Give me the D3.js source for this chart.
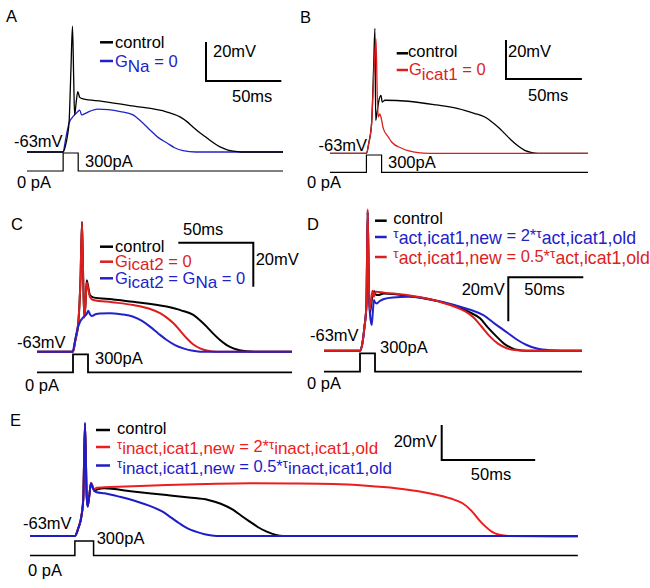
<!DOCTYPE html>
<html><head><meta charset="utf-8">
<script src="https://cdn.jsdelivr.net/npm/d3@7"></script>
<style>body{margin:0;background:#fff}svg{display:block}text{font-family:"Liberation Sans",Arial,sans-serif}</style>
</head><body><svg id="c" width="650" height="588"></svg>
<script>
// ---- data: [time ms, membrane potential mV] ----
const A_control = [[0,-63],[24,-63],[25.5,-60],[27,-54],[28,-47],[29.2,-20],[30.2,1.5],[31,-25],[31.6,-44],[32.6,-38],[33.7,-32],[35,-35],[37.2,-35.8],[50,-37],[70,-39.4],[93,-42.5],[101.6,-45],[106,-47.3],[110.2,-50.2],[115,-53.3],[119.5,-55.8],[124,-58.4],[128.2,-60.4],[133,-61.9],[137,-62.6],[142,-63],[170,-63]];
const A_GNa0 = [[0,-63],[24,-63],[25.5,-57],[28,-48],[31,-44.5],[33.5,-42.5],[35,-41.5],[36.3,-44],[38,-43.5],[42,-42],[47,-41],[54,-41.3],[62,-42.3],[70.4,-44],[76,-47.5],[81.7,-51.7],[87,-55.5],[93,-58.4],[98,-60.8],[103.6,-62.3],[112,-63],[170,-63]];
const B_control = [[0,-63],[24,-63],[25.5,-58],[27.4,-47.8],[28.7,-20],[29.6,1.1],[30.1,-46.1],[31,-42],[32.5,-35],[33.6,-33.3],[34.4,-36.7],[36.2,-35.8],[51.5,-36.3],[70,-38.2],[84.4,-40.1],[95,-42.5],[102,-44.4],[106.5,-46.8],[110.7,-49.5],[115,-52.8],[119.5,-56.3],[124,-59.3],[128.3,-61.5],[133,-62.6],[137,-63],[170,-63]];
const B_Gicat1_0 = [[0,-63],[24,-63],[25.5,-58],[27.4,-47.8],[29,-20],[30.3,-4.2],[31.2,-35],[31.8,-44.4],[32.8,-42.8],[33.6,-44.5],[35.1,-50.2],[38.4,-54.6],[40.6,-57.2],[47.2,-60.4],[52,-61.8],[58,-62.7],[65,-63],[170,-63]];
const C_control = [[0,-63],[24,-63],[25.5,-58],[27.5,-50],[29,-30],[30,-4],[30.8,-30],[31.5,-47],[32.3,-42],[33.1,-30.5],[34,-33],[35.3,-37.2],[37.5,-38.3],[50,-39.2],[64.2,-40.3],[86.4,-42.5],[96,-44.2],[104.2,-46.3],[108.8,-48.8],[113.1,-51.6],[117.5,-54.8],[122,-57.7],[126.5,-60],[130.9,-61.5],[135,-62.3],[139.8,-62.8],[145,-63],[170,-63]];
const C_Gicat2_0 = [[0,-63],[24,-63],[25.5,-58],[27.5,-50],[29,-30],[30,-4],[30.8,-30],[31.5,-47.5],[32.3,-42],[33.1,-31.5],[34,-34],[35.3,-38],[37.5,-39.5],[50,-40.5],[64.2,-41.8],[75,-43.5],[82,-45.5],[86.5,-47.5],[91,-50.1],[95.5,-53.5],[99.8,-56.9],[104,-59.6],[108.7,-61.5],[114,-62.6],[120,-63],[170,-63]];
const C_Gicat2_GNa_0 = [[0,-63],[23.8,-63],[24.8,-60],[26.5,-54],[28.7,-49.4],[31,-47.3],[33.1,-45.9],[34.2,-44.4],[35.3,-46],[36.5,-46.8],[39,-46],[42,-45.6],[48.7,-45.5],[56,-46],[64.2,-47.1],[70,-49],[75.3,-51.6],[81,-54.8],[86.5,-57.7],[92,-60],[97.5,-61.5],[103,-62.5],[108.7,-63],[170,-63]];
const D_control = [[0,-63],[24,-63],[25.5,-60],[27,-52],[28.3,-42],[29.1,0],[29.8,-30],[30.5,-46],[31.5,-42],[32.5,-36.9],[33.5,-36],[34.5,-37.5],[36,-37.7],[40,-37],[56,-38],[77,-40.7],[90.7,-43.5],[97,-45.5],[104,-48.3],[109.5,-52.6],[115.1,-56.6],[120,-59.8],[124.5,-61.6],[128.4,-62.6],[135,-63],[172,-63]];
const D_tauAct2x = [[0,-63],[24,-63],[25.5,-60],[27,-52],[28.3,-42],[29.1,0],[29.8,-30],[30.6,-46],[31.8,-51.3],[32.6,-45],[33.3,-40],[34,-41],[35.2,-41.5],[37,-40.5],[40,-39.5],[46,-38.8],[56,-38.5],[77,-40.5],[90.7,-43],[98,-44.5],[106.2,-46.8],[114,-50.8],[121.8,-54.6],[128.5,-57.9],[135.1,-60.4],[142,-62],[150.7,-62.8],[158,-63],[172,-63]];
const D_tauAct05x = [[0,-63],[24,-63],[25.5,-60],[27,-52],[28.3,-42],[29.1,1.3],[29.8,-30],[30.5,-44.5],[31.5,-40],[32.3,-35.7],[33.2,-38.5],[34.2,-36.2],[35.1,-36.2],[40,-36.6],[56,-37.8],[77,-40.7],[90.7,-44],[95,-45.5],[99.5,-47.8],[105,-52],[110.7,-56.6],[116,-59.8],[121.8,-61.9],[127,-62.7],[134,-63],[172,-63]];
const E_control = [[0,-63],[24,-63],[25.8,-58.6],[27.6,-51],[28.5,-41.5],[29.4,1.4],[30.3,-39.6],[30.8,-46],[31.7,-40],[32.6,-33],[33.5,-35],[34.4,-37],[35.7,-36.5],[39.7,-35.7],[55,-37.6],[73.1,-39.6],[85,-41],[95.3,-42.4],[102,-44.6],[108.7,-48.1],[113,-51.4],[117.6,-54.8],[122,-58],[126.6,-60.5],[131,-62.2],[135.5,-63],[293,-63]];
const E_tauInact2x = [[0,-63],[24,-63],[25.8,-58.6],[27.6,-51],[28.5,-41.5],[29.4,1.4],[30.3,-39.6],[30.8,-46],[31.7,-40],[32.6,-32.5],[33.5,-34.5],[34.4,-36.5],[35.7,-35.4],[39.7,-35.2],[55,-34.6],[73.1,-33.9],[95,-33.3],[117.6,-32.9],[140,-33],[162.2,-33.3],[180,-34.3],[195.6,-35.7],[207,-37.3],[217.9,-39.6],[225,-41.6],[231.3,-44.3],[236,-48.5],[240.2,-53.9],[243.5,-57.5],[246.9,-60.5],[251,-62.3],[255.8,-63],[293,-63.3]];
const E_tauInact05x = [[0,-63],[24,-63],[25.8,-58.6],[27.6,-51],[28.5,-41.5],[29.4,1.4],[30.3,-39.6],[30.8,-46.3],[31.7,-40],[32.6,-32.9],[33.5,-35.2],[34.4,-37.3],[35.7,-38],[39.7,-38.6],[48,-40.6],[57.5,-43.4],[64,-45.8],[70.9,-49.1],[75.5,-52.5],[79.8,-55.7],[84,-58.5],[88.7,-60.5],[94,-62.2],[99.8,-63],[293,-63]];
// injected current: [time ms, pA]
const stim_170 = [[0,0],[24,0],[24,300],[34,300],[34,0],[170,0]];
const stim_172 = [[0,0],[24,0],[24,300],[34,300],[34,0],[172,0]];
const stim_293 = [[0,0],[24,0],[24,300],[34,300],[34,0],[293,0]];
// scale bar values
const barTime = 50, barVolt = 20;
const restLabel = "-63mV", stimLabel = "300pA", zeroLabel = "0 pA";

const BLUE = "#2222c8", RED = "#dc1e1e", BLACK = "#000";
const svg = d3.select("#c");

function rich(g, x, y, parts, color){
  const t = g.append("text").attr("x", x).attr("y", y).attr("fill", color);
  parts.forEach(p => t.append("tspan").attr("y", y + (p[2]||0)).style("font-size", (p[1]||16.5)+"px").text(p[0]));
}
function txt(g, x, y, s, color){ rich(g, x, y, [[s,16.5,0]], color||BLACK); }

function panel(c){
  const g = svg.append("g");
  const x = d3.scaleLinear().domain([0, c.tMax]).range([c.x0, c.x1]);
  const y = d3.scaleLinear().domain([-63, 0]).range([c.yRest, c.yRest - 63*c.pxmV]);
  const yI = d3.scaleLinear().domain([0, 300]).range([c.iBase, c.iTop]);
  g.append("path").attr("d", d3.line().x(d=>x(d[0])).y(d=>yI(d[1]))(c.stim))
    .attr("fill","none").attr("stroke","#000").attr("stroke-width", c.iw);
  const line = d3.line().x(d=>x(d[0])).y(d=>y(d[1])).curve(d3.curveMonotoneX);
  c.traces.forEach(tr => g.append("path").attr("d", line(tr.data)).attr("fill","none")
    .attr("stroke", tr.color).attr("stroke-width", c.lw).attr("stroke-linejoin","round"));
  // scale bar
  const lt = x(barTime) - x(0), lv = y(-63) - y(-63 + barVolt);
  const [bx, by] = c.bar; let d;
  if (c.barType === "L") d = `M${bx},${by-lv}V${by}H${bx+lt}`;
  else if (c.barType === "R") d = `M${bx-lt},${by}H${bx}V${by+lv}`;
  else d = `M${bx},${by+lv}V${by}H${bx+lt}`;
  g.append("path").attr("d", d).attr("fill","none").attr("stroke","#000").attr("stroke-width",2);
  // legend
  c.legend.forEach(L => {
    g.append("line").attr("x1", L.dx[0]).attr("x2", L.dx[1]).attr("y1", L.dy).attr("y2", L.dy)
      .attr("stroke", L.color).attr("stroke-width", 2.5);
    rich(g, L.tx, L.ty, L.parts, L.color);
  });
  c.labels.forEach(l => txt(g, l[0], l[1], l[2]));
}

panel({x0:27, x1:283, tMax:170, yRest:152, pxmV:1.95, iBase:171, iTop:153, lw:1.3, iw:1.2,
  stim: stim_170, traces:[{data:A_GNa0,color:BLUE},{data:A_control,color:BLACK}],
  barType:"L", bar:[206,81],
  legend:[{dx:[100,113],dy:42.3,tx:115,ty:48,color:BLACK,parts:[["control"]]},
          {dx:[100,113],dy:61,tx:115,ty:66.5,color:BLUE,parts:[["G"],["Na",17,5],[" = 0"]]}],
  labels:[[6,22,"A"],[14,146.5,restLabel],[85,166.5,stimLabel],[17,188,zeroLabel],[213,57,"20mV"],[232,102,"50ms"]]});

panel({x0:330, x1:588, tMax:170, yRest:153.3, pxmV:1.95, iBase:172.3, iTop:155, lw:1.3, iw:1.2,
  stim: stim_170, traces:[{data:B_control,color:BLACK},{data:B_Gicat1_0,color:RED}],
  barType:"L", bar:[506,79],
  legend:[{dx:[396.7,408],dy:53.3,tx:408,ty:57,color:BLACK,parts:[["control"]]},
          {dx:[396.7,408],dy:70,tx:409,ty:75,color:RED,parts:[["G"],["icat1",17,5],[" = 0"]]}],
  labels:[[300,23,"B"],[318.5,150.5,restLabel],[388,168,stimLabel],[307,188,zeroLabel],[508,57,"20mV"],[528,101,"50ms"]]});

panel({x0:37, x1:292, tMax:170, yRest:351.7, pxmV:2.2, iBase:372.3, iTop:354.3, lw:2, iw:1.8,
  stim: stim_170, traces:[{data:C_control,color:BLACK},{data:C_Gicat2_0,color:RED},{data:C_Gicat2_GNa_0,color:BLUE}],
  barType:"R", bar:[253.3,242.7],
  legend:[{dx:[100,113],dy:246.7,tx:115,ty:251.5,color:BLACK,parts:[["control"]]},
          {dx:[100,113],dy:261.7,tx:115,ty:266.5,color:RED,parts:[["G"],["icat2",17,3.5],[" = 0"]]},
          {dx:[100,113],dy:278.3,tx:115,ty:284,color:BLUE,parts:[["G"],["icat2",17,3.5],[" = G"],["Na",17,3.5],[" = 0"]]}],
  labels:[[11,229.5,"C"],[17,348,restLabel],[95,363.5,stimLabel],[25,391,zeroLabel],[255.7,265,"20mV"],[183,235,"50ms"]]});

panel({x0:324, x1:582, tMax:172, yRest:350.7, pxmV:2.2, iBase:371.7, iTop:353.3, lw:2, iw:1.8,
  stim: stim_172, traces:[{data:D_control,color:BLACK},{data:D_tauAct2x,color:BLUE},{data:D_tauAct05x,color:RED}],
  barType:"G", bar:[508.3,277.3],
  legend:[{dx:[375,386.7],dy:220.7,tx:393.3,ty:224,color:BLACK,parts:[["control"]]},
          {dx:[375,386.7],dy:237,tx:393.3,ty:241,color:BLUE,parts:[["τ",13.5,-3.5],["act,icat1,new",17.7,2.5],[" = 2*"],["τ",13.5,-3.5],["act,icat1,old",17.7,2.5]]},
          {dx:[375,386.7],dy:257,tx:393.3,ty:261.5,color:RED,parts:[["τ",13.5,-3.5],["act,icat1,new",17.7,2.5],[" = 0.5*"],["τ",13.5,-3.5],["act,icat1,old",17.7,2.5]]}],
  labels:[[307,229.5,"D"],[310,340.5,restLabel],[380,353,stimLabel],[307,389,zeroLabel],[461.7,295,"20mV"],[524.3,294.5,"50ms"]]});

panel({x0:30, x1:579, tMax:293.6, yRest:536, pxmV:1.75, iBase:555.5, iTop:541, lw:2, iw:1.5,
  stim: stim_293, traces:[{data:E_control,color:BLACK},{data:E_tauInact2x,color:"#ee1c1c"},{data:E_tauInact05x,color:"#1c1cc8"}],
  barType:"L", bar:[441.7,460],
  legend:[{dx:[96,110],dy:430,tx:117,ty:433.5,color:BLACK,parts:[["control"]]},
          {dx:[96,110],dy:447,tx:117,ty:452,color:"#ee1c1c",parts:[["τ",13,-3.5],["inact,icat1,new",17,2],[" = 2*"],["τ",13,-3.5],["inact,icat1,old",17,2]]},
          {dx:[96,110],dy:465.5,tx:117,ty:471.5,color:"#1c1cc8",parts:[["τ",13,-3.5],["inact,icat1,new",17,2],[" = 0.5*"],["τ",13,-3.5],["inact,icat1,old",17,2]]}],
  labels:[[10,426,"E"],[23,528.5,restLabel],[96.7,544,stimLabel],[28,576,zeroLabel],[393.7,446.5,"20mV"],[470.8,479.5,"50ms"]]});
</script></body></html>
